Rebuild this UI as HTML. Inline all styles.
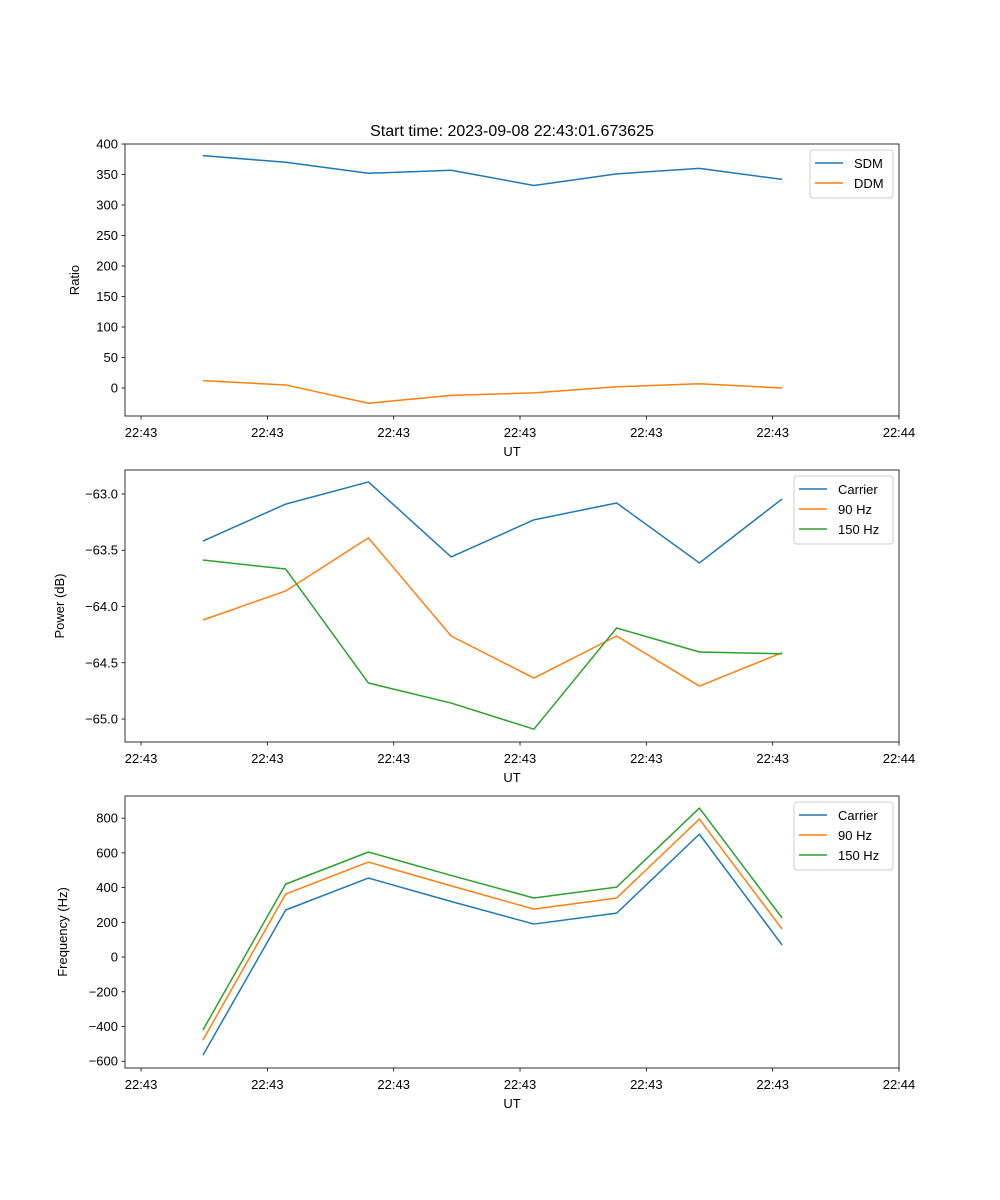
<!DOCTYPE html>
<html><head><meta charset="utf-8"><style>
body{margin:0;background:#fff}
svg{display:block;font-family:"Liberation Sans","DejaVu Sans",sans-serif}
</style></head><body>
<svg id="fig" width="1000" height="1200" viewBox="0 0 1000 1200">
<rect width="1000" height="1200" fill="#fff"/>
<text x="512" y="136" font-size="16" text-anchor="middle">Start time: 2023-09-08 22:43:01.673625</text>
</svg>
<script>
const times=[4.9,11.45,18.0,24.55,31.1,37.65,44.2,50.75];
const xTicks=[0,10,20,30,40,50,60];
const xTickLabels=["22:43","22:43","22:43","22:43","22:43","22:43","22:44"];
const sdm=[381,370,352,357,332,351,360,342];
const ddm=[12,5,-25,-12,-8,2,7,0];
const pCarrier=[-63.418,-63.09,-62.893,-63.56,-63.23,-63.08,-63.613,-63.044];
const p90=[-64.12,-63.862,-63.39,-64.262,-64.636,-64.262,-64.707,-64.41];
const p150=[-63.587,-63.667,-64.68,-64.858,-65.09,-64.191,-64.404,-64.42];
const fCarrier=[-565,271,455,320,190,253,708,69];
const f90=[-478,363,547,410,276,340,795,161];
const f150=[-420,420,605,470,340,403,858,225];
const ticks1=[0,50,100,150,200,250,300,350,400];
const ticks2=[-65.0,-64.5,-64.0,-63.5,-63.0];
const ticks3=[-600,-400,-200,0,200,400,600,800];
const C=["#1f77b4","#ff7f0e","#2ca02c"];
const svg=document.getElementById('fig');
const NS="http://www.w3.org/2000/svg";
function mk(tag,attrs,parent,text){const e=document.createElementNS(NS,tag);for(const k in attrs)e.setAttribute(k,attrs[k]);if(text!==undefined)e.textContent=text;(parent||svg).appendChild(e);return e;}
const L=125,R=899,xmin=-1.27,xmax=60;
function xs(t){return L+(t-xmin)/(xmax-xmin)*(R-L);}
function panel(name,top,bot,ymin,ymax,yticks,fmt,ylabel,ylx,series,labels,legX){
  const g=mk('g',{});
  
  
  const ys=v=>bot-(v-ymin)/(ymax-ymin)*(bot-top);
  series.forEach((s,i)=>{
    const p=mk('polyline',{points:s.map((v,j)=>xs(times[j])+','+ys(v)).join(' '),fill:'none',stroke:C[i],'stroke-width':1.5,'stroke-linejoin':'round'},g);
    
    
  });
  const fr=mk('rect',{x:L,y:top,width:R-L,height:bot-top,fill:'none',stroke:'#000','stroke-width':0.8},g);
  
  
  xTicks.forEach((t,i)=>{const x=xs(t);mk('line',{x1:x,x2:x,y1:bot,y2:bot+3.5,stroke:'#000','stroke-width':0.8},g);
    const tl=mk('text',{x:x,y:bot+21,'font-size':13,'text-anchor':'middle'},g,xTickLabels[i]);
    
    });
  yticks.forEach(v=>{const y=ys(v);mk('line',{x1:L-3.5,x2:L,y1:y,y2:y,stroke:'#000','stroke-width':0.8},g);
    const tl=mk('text',{x:L-7,y:y+4.5,'font-size':13,'text-anchor':'end'},g,fmt(v));
    
    });
  const xl=mk('text',{x:512,y:bot+40,'font-size':13,'text-anchor':'middle'},g,'UT');
  
  
  const cy=(top+bot)/2;
  const yl=mk('text',{x:ylx,y:cy,'font-size':13,'text-anchor':'middle',transform:'rotate(-90 '+ylx+' '+cy+')'},g,ylabel);
  
  
  const lg=mk('g',{},g);
  
  
  const h=labels.length*20+8;
  mk('rect',{x:legX,y:top+6,width:R-6-legX,height:h,rx:3,fill:'#fff','fill-opacity':0.8,stroke:'#ccc'},lg);
  labels.forEach((lb,i)=>{const y=top+19+i*20;
    mk('line',{x1:legX+5,x2:legX+33,y1:y,y2:y,stroke:C[i],'stroke-width':1.5},lg);
    const t=mk('text',{x:legX+44,y:y+5,'font-size':13},lg,lb);
    
    });
}
panel('ratio',144,416,-45.9,400,ticks1,v=>String(v),'Ratio',79,[sdm,ddm],['SDM','DDM'],810);
panel('power',470,742,-65.204,-62.787,ticks2,v=>v.toFixed(1).replace('-','\u2212'),'Power (dB)',64,[pCarrier,p90,p150],['Carrier','90 Hz','150 Hz'],794);
panel('frequency',796,1068,-639,927.6,ticks3,v=>String(v).replace('-','\u2212'),'Frequency (Hz)',67,[fCarrier,f90,f150],['Carrier','90 Hz','150 Hz'],794);
</script>
</body></html>
